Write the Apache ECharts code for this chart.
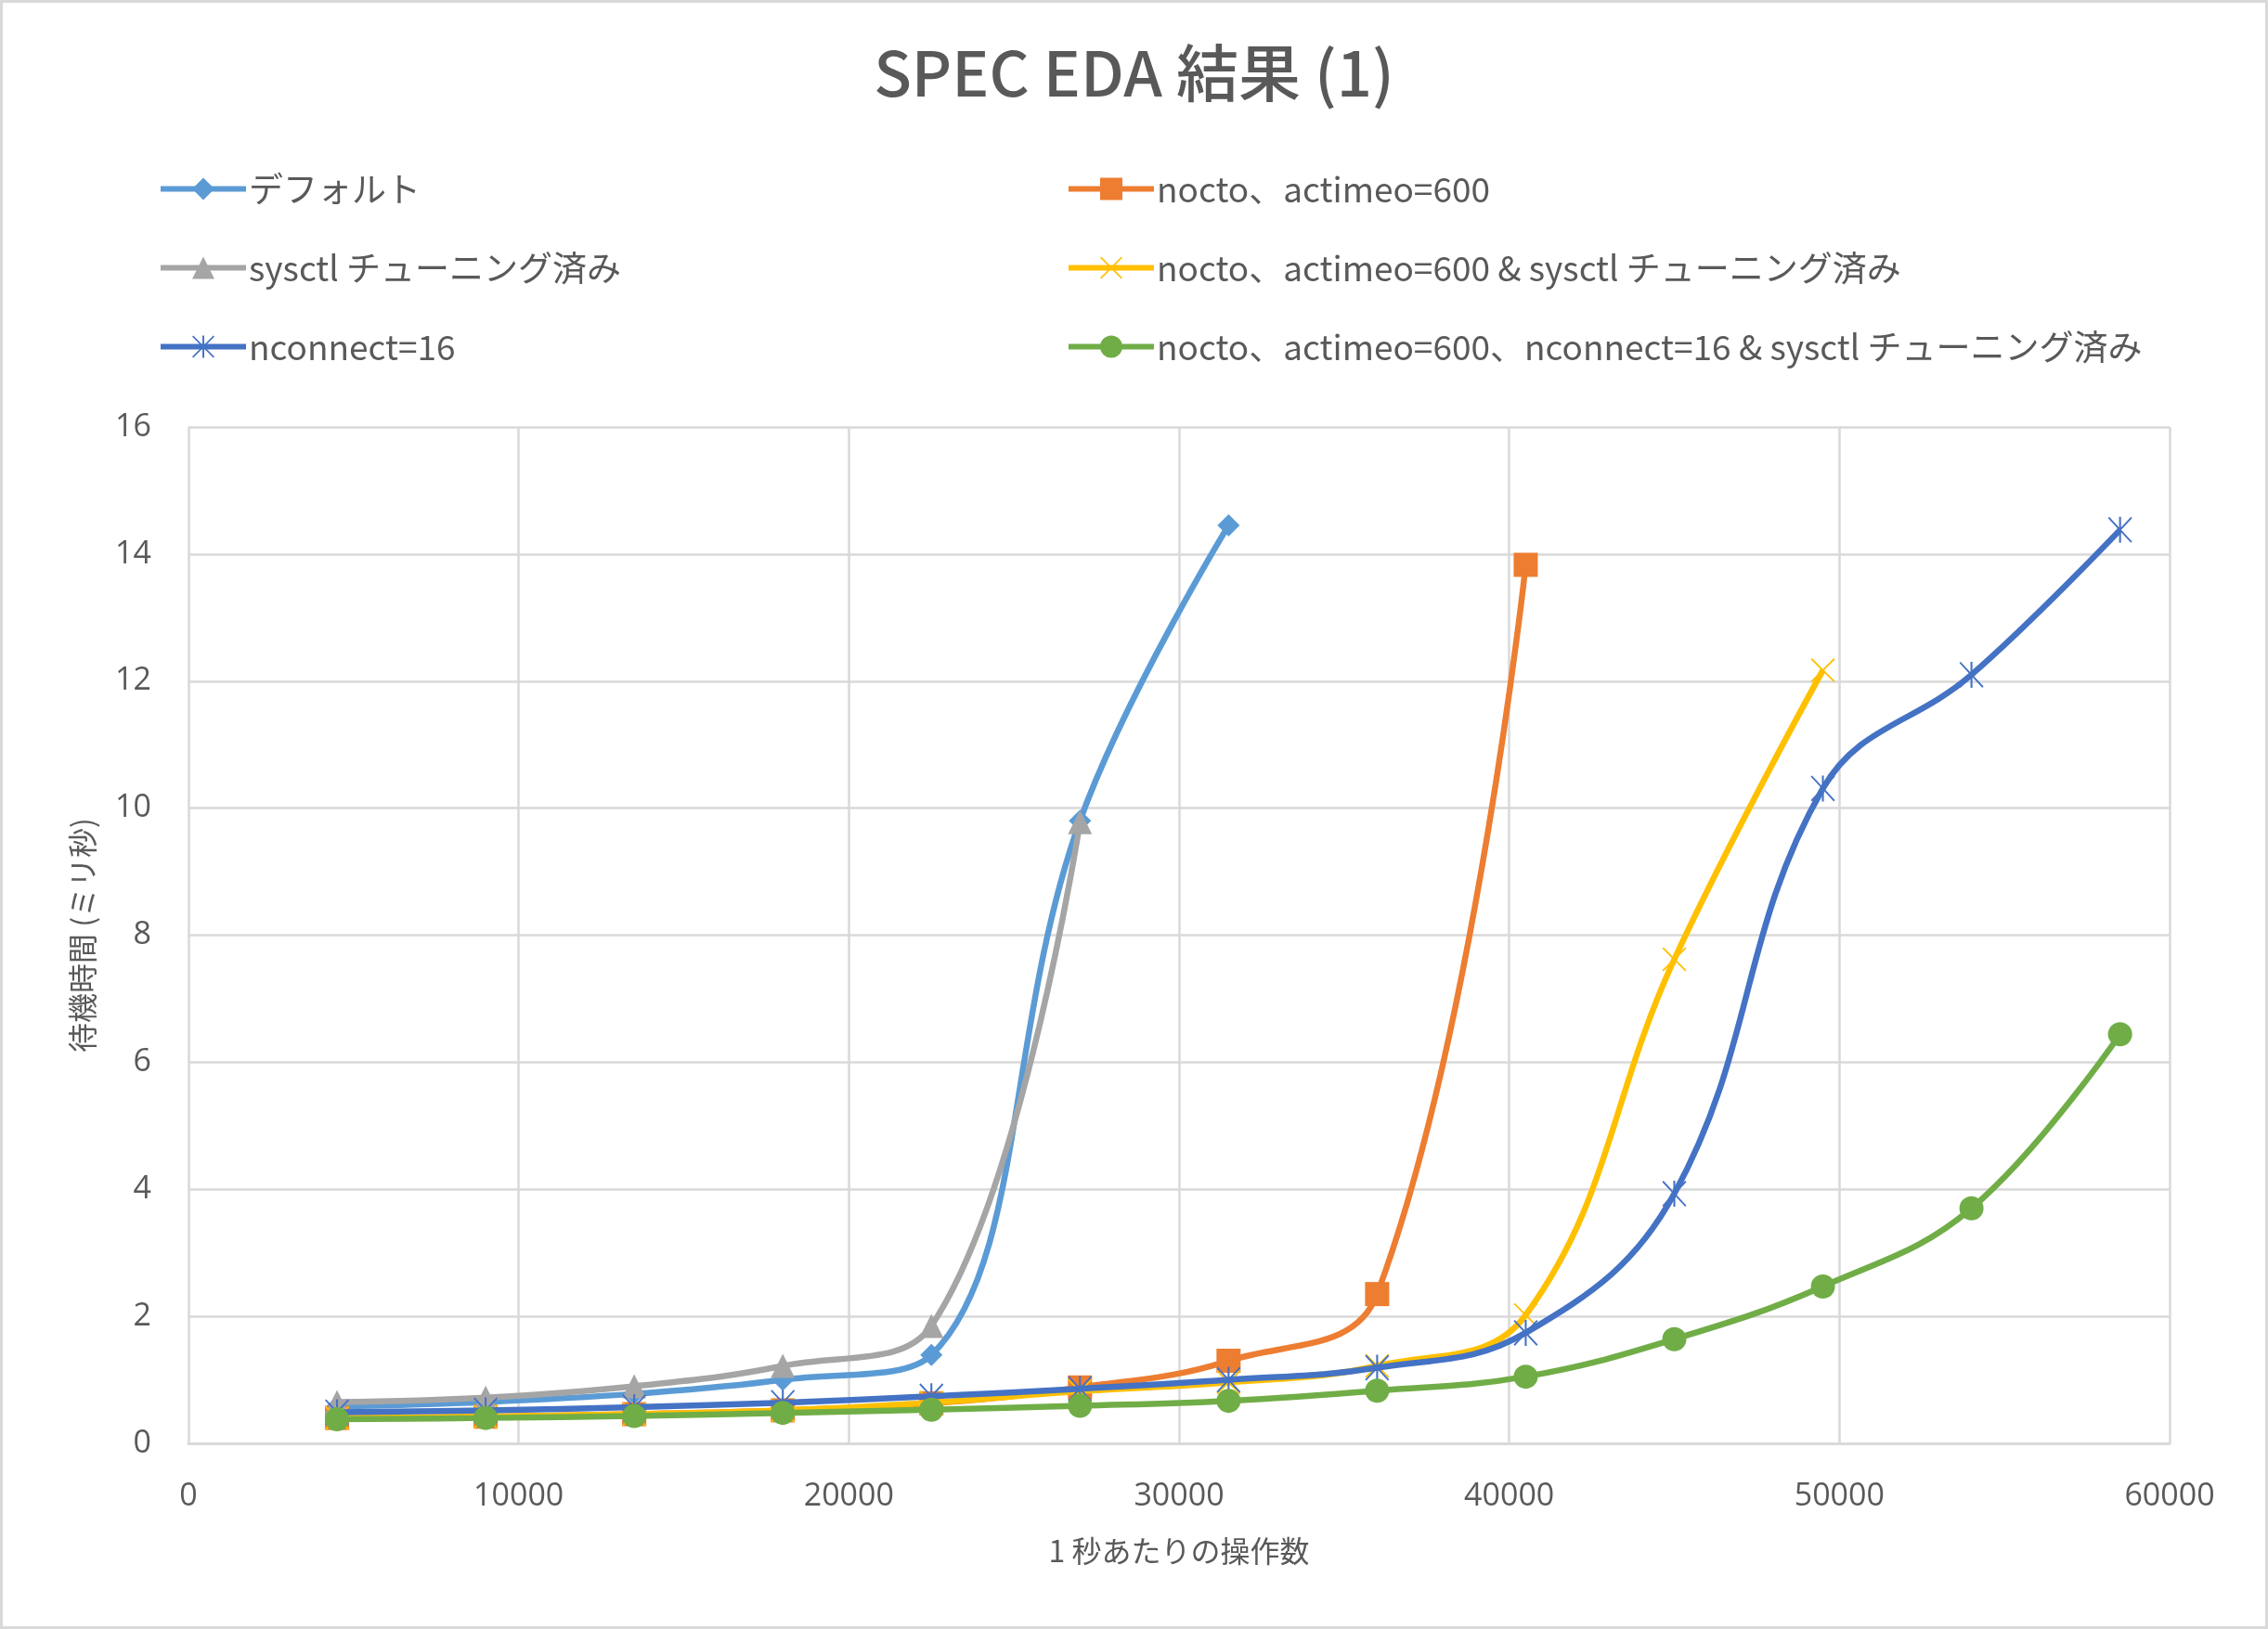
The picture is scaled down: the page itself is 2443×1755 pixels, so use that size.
<!DOCTYPE html>
<html>
<head>
<meta charset="utf-8">
<script src="https://cdn.jsdelivr.net/npm/echarts@6/dist/echarts.min.js"></script>
<style>
html,body{margin:0;padding:0;background:#fff;}
#chart{width:2443px;height:1755px;}
</style>
</head>
<body>
<div id="chart"></div>
<script>
// ---- data ----
const xOps = [4500, 9000, 13500, 18000, 22500, 27000, 31500, 36000, 40500, 45000, 49500, 54000, 58500];
const seriesNames = [
  'デフォルト',
  'nocto、actimeo=600',
  'sysctl チューニング済み',
  'nocto、actimeo=600 & sysctl チューニング済み',
  'nconnect=16',
  'nocto、actimeo=600、nconnect=16 & sysctl チューニング済み'
];
const defaultVals   = [0.58, 0.65, 0.78, 1.00, 1.39, 9.80, 14.45];
const noctoVals     = [0.40, 0.42, 0.46, 0.52, 0.63, 0.88, 1.30, 2.35, 13.83];
const sysctlVals    = [0.65, 0.72, 0.90, 1.22, 1.85, 9.78];
const noctoSysVals  = [0.40, 0.42, 0.46, 0.52, 0.64, 0.82, 0.96, 1.22, 2.02, 7.62, 12.17];
const nconnectVals  = [0.49, 0.52, 0.57, 0.64, 0.74, 0.86, 1.00, 1.19, 1.74, 3.93, 10.31, 12.10, 14.38];
const allVals       = [0.38, 0.40, 0.43, 0.48, 0.53, 0.59, 0.67, 0.83, 1.05, 1.64, 2.47, 3.70, 6.44];
const xTicks = [0, 10000, 20000, 30000, 40000, 50000, 60000];
const yTicks = [0, 2, 4, 6, 8, 10, 12, 14, 16];

const colors = ['#5B9BD5', '#ED7D31', '#A5A5A5', '#FFC000', '#4472C4', '#70AD47'];
const xPath = 'path://M0,1L1,0L20,19L19,20ZM19,0L20,1L1,20L0,19Z';
const starPath = 'path://M0,1L1,0L20,19L19,20ZM19,0L20,1L1,20L0,19ZM9.2,0L10.8,0L10.8,20L9.2,20Z';
const symbols = ['diamond', 'rect', 'triangle', xPath, starPath, 'circle'];
const symbolSizes = [24, 26, 26, 26, [26, 28], 26];
const valueSets = [defaultVals, noctoVals, sysctlVals, noctoSysVals, nconnectVals, allVals];

const FONT = '"Noto Sans CJK JP", "Noto Sans", sans-serif';
const NUMFONT = '"Open Sans", "Noto Sans", sans-serif';
const textColor = '#595959';

const series = valueSets.map((vals, i) => ({
  name: seriesNames[i],
  type: 'line',
  smooth: 0.4,
  data: vals.map((v, j) => [xOps[j], v]),
  symbol: symbols[i],
  symbolSize: symbolSizes[i],
  showAllSymbol: true,
  color: colors[i],
  lineStyle: { width: 6.5, color: colors[i] },
  itemStyle: { color: colors[i] },
  z: 2 + i,
  animation: false
}));

const legendCommon = {
  orient: 'vertical',
  top: 180,
  itemWidth: 92,
  itemHeight: 30,
  itemGap: 48,
  lineStyle: { width: 6 },
  textStyle: { fontFamily: FONT, fontSize: 37, color: textColor, padding: [0, 0, 0, -2] }
};

const chart = echarts.init(document.getElementById('chart'), null, { renderer: 'canvas' });
chart.setOption({
  backgroundColor: '#ffffff',
  animation: false,
  textStyle: { fontFamily: FONT },
  title: {
    text: 'SPEC EDA 結果 (1)',
    left: 'center',
    top: 40,
    textStyle: { fontFamily: FONT, fontSize: 67, fontWeight: 500, color: textColor }
  },
  graphic: [{
    type: 'rect',
    shape: { x: 1.5, y: 1.5, width: 2440, height: 1752 },
    style: { fill: null, stroke: '#d9d9d9', lineWidth: 3 },
    silent: true
  }],
  legend: [
    Object.assign({ data: [seriesNames[0], seriesNames[2], seriesNames[4]], left: 165 }, legendCommon),
    Object.assign({ data: [seriesNames[1], seriesNames[3], seriesNames[5]], left: 1143 }, legendCommon)
  ],
  grid: { left: 203, right: 106, top: 460, bottom: 200 },
  xAxis: {
    type: 'value',
    min: xTicks[0],
    max: xTicks[xTicks.length - 1],
    interval: xTicks[1] - xTicks[0],
    name: '1 秒あたりの操作数',
    nameLocation: 'middle',
    nameGap: 100,
    nameTextStyle: { fontFamily: FONT, fontSize: 32, color: textColor },
    axisLine: { show: true, lineStyle: { color: '#d9d9d9', width: 3 } },
    axisTick: { show: false },
    axisLabel: { fontFamily: NUMFONT, fontSize: 34, color: textColor, margin: 40, formatter: v => String(v) },
    splitLine: { show: true, lineStyle: { color: '#d9d9d9', width: 2.5 } }
  },
  yAxis: {
    type: 'value',
    min: yTicks[0],
    max: yTicks[yTicks.length - 1],
    interval: yTicks[1] - yTicks[0],
    name: '待機時間 (ミリ秒)',
    nameLocation: 'middle',
    nameRotate: 90,
    nameGap: 98,
    nameTextStyle: { fontFamily: FONT, fontSize: 32, color: textColor },
    axisLine: { show: false },
    axisTick: { show: false },
    axisLabel: { fontFamily: NUMFONT, fontSize: 34, color: textColor, margin: 40, formatter: v => String(v) },
    splitLine: { show: true, lineStyle: { color: '#d9d9d9', width: 2.5 } }
  },
  series: series
});
</script>
</body>
</html>
